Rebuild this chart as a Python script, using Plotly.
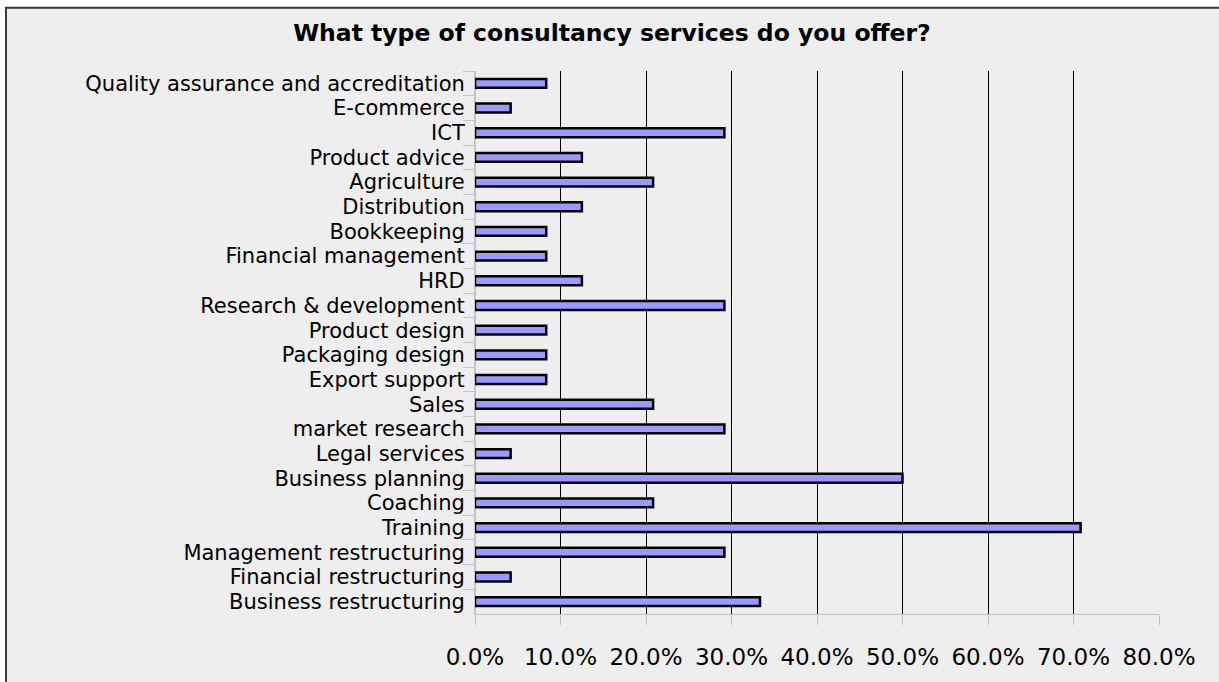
import plotly.graph_objects as go

# Survey responses, listed top to bottom as they appear on the chart
services = [
    "Quality assurance and accreditation",
    "E-commerce",
    "ICT",
    "Product advice",
    "Agriculture",
    "Distribution",
    "Bookkeeping",
    "Financial management",
    "HRD",
    "Research & development",
    "Product design",
    "Packaging design",
    "Export support",
    "Sales",
    "market research",
    "Legal services",
    "Business planning",
    "Coaching",
    "Training",
    "Management restructuring",
    "Financial restructuring",
    "Business restructuring",
]
share = [
    0.0833, 0.0417, 0.2917, 0.125, 0.2083, 0.125, 0.0833, 0.0833, 0.125,
    0.2917, 0.0833, 0.0833, 0.0833, 0.2083, 0.2917, 0.0417, 0.50, 0.2083,
    0.7083, 0.2917, 0.0417, 0.3333,
]
x_ticks = [0.0, 0.1, 0.2, 0.3, 0.4, 0.5, 0.6, 0.7, 0.8]
title_text = "What type of consultancy services do you offer?"

W, H = 1219, 682
ML, MR, MT, MB = 475, 60, 71, 61
PW, PH = W - ML - MR, H - MT - MB


def px_to_fx(px):
    return (px - ML) / PW


def py_to_fy(py):
    return 1 - (py - MT) / PH


fig = go.Figure(
    go.Bar(
        x=share,
        y=services,
        orientation="h",
        width=0.36,
        marker=dict(color="#9999FF", line=dict(color="#000000", width=2.5)),
        hoverinfo="x+y",
    )
)

bg = "#EEEEEE"

# Chart frame: grey panel with a dark outline, running off the right and bottom edges
fig.add_shape(
    type="rect",
    xref="paper", yref="paper",
    x0=px_to_fx(6), x1=px_to_fx(W + 20),
    y0=py_to_fy(H + 20), y1=py_to_fy(7),
    fillcolor=bg,
    line=dict(color="#3A3A3A", width=2),
    layer="below",
)

font_family = "DejaVu Sans"

fig.update_layout(
    width=W,
    height=H,
    margin=dict(l=ML, r=MR, t=MT, b=MB, pad=0),
    paper_bgcolor="#FFFFFF",
    plot_bgcolor="rgba(0,0,0,0)",
    showlegend=False,
    title=dict(
        text=title_text,
        x=0.502,
        xref="container",
        xanchor="center",
        y=1 - 33 / H,
        yref="container",
        yanchor="middle",
        font=dict(family=font_family, size=23.5, color="#000000", weight="bold"),
    ),
    font=dict(family=font_family, size=23, color="#000000"),
)

fig.update_xaxes(
    range=[0, 0.8],
    tickvals=x_ticks,
    tickformat=".1%",
    showgrid=True,
    gridcolor="#000000",
    gridwidth=1,
    zeroline=True,
    zerolinecolor="#C4C4C4",
    zerolinewidth=1,
    showline=True,
    linecolor="#C4C4C4",
    linewidth=1,
    ticks="outside",
    ticklen=10,
    tickcolor="#C4C4C4",
    ticklabelstandoff=12,
    tickfont=dict(family=font_family, size=23, color="#000000"),
    fixedrange=True,
)

fig.update_yaxes(
    categoryorder="array",
    categoryarray=services,
    autorange="reversed",
    tickmode="linear",
    tick0=0,
    dtick=1,
    showgrid=False,
    showline=True,
    linecolor="#C4C4C4",
    linewidth=1,
    ticks="outside",
    tickson="boundaries",
    ticklen=11,
    tickcolor="#C4C4C4",
    ticklabelstandoff=5,
    tickfont=dict(family=font_family, size=21, color="#000000"),
    fixedrange=True,
)

fig.write_html("out.html")
